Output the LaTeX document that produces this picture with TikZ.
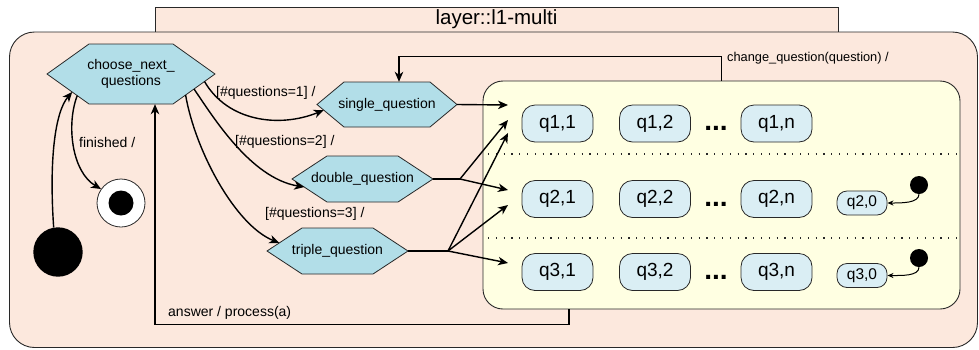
\documentclass[tikz,border=0pt]{standalone}
\usepackage{fontspec}
\setmainfont{Liberation Sans}
\usetikzlibrary{arrows.meta,calc}
\definecolor{peach}{RGB}{252,232,221}
\definecolor{hexblue}{RGB}{178,222,232}
\definecolor{qblue}{RGB}{218,238,244}
\definecolor{lyellow}{RGB}{255,255,226}
\definecolor{outl}{RGB}{40,40,40}
\newcommand\hexnode[7]{%
 \filldraw[hexshape] ({#2-#4},{#3}) coordinate (#1-w) -- ({#2-#4+#6},{#3-#5}) coordinate (#1-nw) -- ({#2+#4-#6},{#3-#5}) coordinate (#1-ne) -- ({#2+#4},{#3}) coordinate (#1-e) -- ({#2+#4-#6},{#3+#5}) coordinate (#1-se) -- ({#2-#4+#6},{#3+#5}) coordinate (#1-sw) -- cycle;
 \node[hextext, minimum width={2*#4}, minimum height={2*#5}] (#1) at (#2,#3) {#7};
}
\tikzset{
 hexshape/.style={draw=outl, fill=hexblue, line width=0.8pt},
 hextext/.style={draw=none, inner sep=0pt, align=center, font=\fontsize{14}{16.5}\selectfont},
 edge/.style={draw=black, line width=1.4pt, -{Stealth[length=10pt,width=8.5pt,inset=3pt]}},
 plain/.style={draw=black, line width=1.4pt},
 thinedge/.style={draw=black, line width=1pt, -{Stealth[length=6pt,width=5pt,inset=1.8pt]}},
 lbl/.style={inner sep=0pt, anchor=west, font=\fontsize{14}{16.5}\selectfont},
 qbox/.style={draw=outl, fill=qblue, line width=0.8pt, rounded corners=13pt, minimum width=71pt, minimum height=37pt, inner sep=0pt, font=\fontsize{19}{21}\selectfont},
 qsmall/.style={draw=outl, fill=qblue, line width=0.8pt, rounded corners=10pt, minimum width=50pt, minimum height=24pt, inner sep=0pt, font=\fontsize{15.5}{18}\selectfont},
 qdots/.style={inner sep=0pt, anchor=base, font=\fontsize{28}{30}\selectfont\bfseries},
 dotsep/.style={draw=outl, line width=1.2pt, dash pattern=on 1.2pt off 6.6pt},
 startdot/.style={circle, fill=black, inner sep=0pt},
}
\begin{document}
\begin{tikzpicture}[x=1pt,y=-1pt]
\useasboundingbox (0,0) rectangle (979,349);
% containers
\filldraw[draw=outl, fill=peach, line width=0.9pt] (155,7) rectangle (838,32);
\node[font=\fontsize{20.5}{23}\selectfont, inner sep=0pt] (tabl) at (496.5,19.5) {layer::l1-multi};
\filldraw[draw=outl, fill=peach, line width=0.9pt, rounded corners=25pt] (9.5,32) rectangle (977.5,347.5);
\node[draw=outl, fill=lyellow, line width=0.9pt, rounded corners=20pt, minimum width=477pt, minimum height=228pt, inner sep=0pt] (yb) at (721.5,195) {};
\draw[dotsep] (488,154) -- (958,154);
\draw[dotsep] (488,238) -- (958,238);
% question boxes
\node[qbox] (q11) at (557.5,123.5) {q1,1};
\node[qbox] (q12) at (655,123.5) {q1,2};
\node[qdots] (dots1) at (716,130.5) {...};
\node[qbox] (q1n) at (776.5,123.5) {q1,n};
\node[qbox] (q21) at (557.5,199) {q2,1};
\node[qbox] (q22) at (655,199) {q2,2};
\node[qdots] (dots2) at (716,206) {...};
\node[qbox] (q2n) at (776.5,199) {q2,n};
\node[qbox] (q31) at (557.5,272) {q3,1};
\node[qbox] (q32) at (655,272) {q3,2};
\node[qdots] (dots3) at (716,279) {...};
\node[qbox] (q3n) at (776.5,272) {q3,n};
\node[qsmall] (q20) at (862,203) {q2,0};
\node[qsmall] (q30) at (862,275.5) {q3,0};
\node[startdot, minimum size=18pt] (d2) at (919,185) {};
\node[startdot, minimum size=18pt] (d3) at (919,258) {};
\draw[thinedge] (d2.south) .. controls +(0,9) and +(14,0) .. (q20.east);
\draw[thinedge] (d3.south) .. controls +(0,9) and +(14,0) .. (q30.east);
% hexagons
\hexnode{choose}{131}{74}{84}{30}{42}{choose\_next\_\\questions}
\hexnode{single}{387}{104.5}{70}{22.5}{27}{single\_question}
\hexnode{double}{362.5}{179}{70.5}{23}{35}{double\_question}
\hexnode{triple}{337.5}{251}{70.5}{23}{35}{triple\_question}
% states
\node[startdot, minimum size=49.4pt] (init) at (58,252) {};
\node[circle, draw=outl, fill=white, line width=0.8pt, minimum size=48pt, inner sep=0pt] (final) at (121,203) {};
\node[startdot, minimum size=25pt] (finalin) at (121,203) {};
% transitions from choose
\draw[edge] (init.100) .. controls (49,160) and (55,112) .. ($(choose-w)!0.6!(choose-sw)$);
\draw[edge] ($(choose-w)!0.72!(choose-sw)$) .. controls (66,125) and (72,172) .. (final.145);
\node[lbl] (lf) at (79,142) {finished /};
\draw[edge] ($(choose-e)!0.25!(choose-se)$) .. controls (228,122) and (280,128) .. ($(single-w)!0.25!(single-sw)$);
\node[lbl] (l1) at (216,93) {[\#questions=1] /};
\draw[edge] ($(choose-e)!0.5!(choose-se)$) .. controls (212,115) and (250,178) .. ($(double-w)!0.35!(double-sw)$);
\node[lbl] (l2) at (235,142) {[\#questions=2] /};
\draw[edge] ($(choose-e)!0.7!(choose-se)$) .. controls (195,150) and (235,225) .. ($(triple-w)!0.35!(triple-nw)$);
\node[lbl] (l3) at (265,214) {[\#questions=3] /};
% fan into the question rows
\coordinate (t1) at (508,105);
\coordinate (t2a) at (508,120);
\coordinate (t2b) at (508,190);
\coordinate (t3a) at (508,133);
\coordinate (t3b) at (508,205);
\coordinate (t3c) at (508,263);
\coordinate (j2) at (460,179);
\coordinate (j3) at (448,251);
\draw[edge] (single.east) -- (t1);
\draw[plain] (double.east) -- (j2);
\draw[edge] (j2) -- (t2a);
\draw[edge] (j2) -- (t2b);
\draw[plain] (triple.east) -- (j3);
\draw[edge] (j3) -- (t3a);
\draw[edge] (j3) -- (t3b);
\draw[edge] (j3) -- (t3c);
% change question
\draw[edge] (yb.north) -- ++(0,-24) -| ([xshift=12pt]single.north);
\node[lbl, font=\fontsize{12.8}{15}\selectfont] (lc) at (727,58) {change\_question(question) /};
% answer
\draw[edge] ([xshift=-152.5pt]yb.south) -- ++(0,15) -| ([xshift=24pt]choose.south);
\node[lbl] (la) at (168,313) {answer / process(a)};
\end{tikzpicture}
\end{document}
